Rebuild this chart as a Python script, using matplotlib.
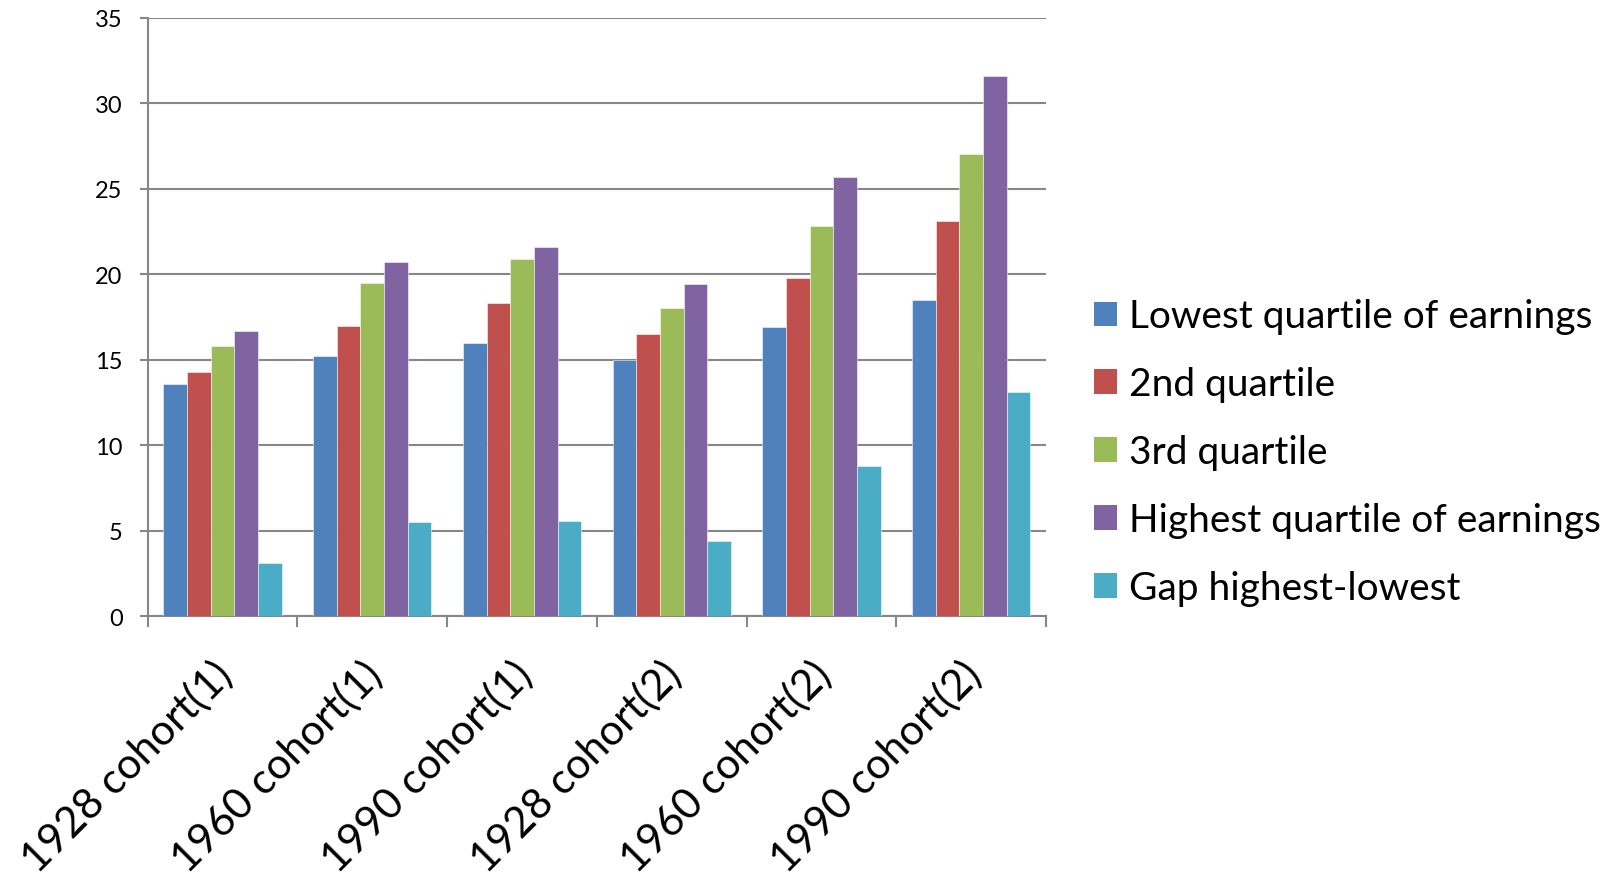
import matplotlib
matplotlib.use("Agg")
import matplotlib.pyplot as plt
from matplotlib.patches import Patch
from matplotlib.transforms import ScaledTranslation
import numpy as np

plt.rcParams['font.family'] = ['Lato', 'DejaVu Sans']

categories = ["1928 cohort(1)", "1960 cohort(1)", "1990 cohort(1)",
              "1928 cohort(2)", "1960 cohort(2)", "1990 cohort(2)"]
series_names = ["Lowest quartile of earnings", "2nd quartile", "3rd quartile",
                "Highest quartile of earnings", "Gap highest-lowest"]
lowest = [13.6, 15.2, 16.0, 15.0, 16.9, 18.5]
second = [14.3, 17.0, 18.3, 16.5, 19.8, 23.1]
third = [15.8, 19.5, 20.9, 18.0, 22.8, 27.0]
highest = [16.7, 20.7, 21.6, 19.4, 25.7, 31.6]
gap = [3.1, 5.5, 5.6, 4.4, 8.8, 13.1]
y_ticks = [0, 5, 10, 15, 20, 25, 30, 35]

colors = ["#4F81BD", "#C0504D", "#9BBB59", "#8064A2", "#4BACC6"]
series = [lowest, second, third, highest, gap]

fig = plt.figure(figsize=(16.19, 8.87), dpi=100)
ax = fig.add_axes([0.0912, 0.304, 0.555, 0.675])

x = np.arange(len(categories))
width = 0.158
for i, (vals, col, name) in enumerate(zip(series, colors, series_names)):
    offs = (i - 2) * width
    ax.bar(x + offs, vals, width=width, color=col, edgecolor=(1, 1, 1, 0.6),
           linewidth=0.6, label=name, zorder=3)

ax.set_xlim(-0.5, len(categories) - 0.5)
ax.set_ylim(0, 35)
ax.set_yticks(y_ticks)
ax.set_yticklabels([str(t) for t in y_ticks], fontsize=17)
ax.yaxis.grid(True, color="#878787", linewidth=1.5, zorder=0)
ax.set_axisbelow(True)

for s in ["top", "right"]:
    ax.spines[s].set_visible(False)
for s in ["left", "bottom"]:
    ax.spines[s].set_color("#878787")
    ax.spines[s].set_linewidth(1.5)

ax.tick_params(axis="y", length=6, width=1.5, color="#878787", pad=12)

# category boundaries carry the tick marks, labels sit at group centers
ax.set_xticks(np.arange(len(categories) + 1) - 0.5)
ax.set_xticklabels([])
ax.tick_params(axis="x", which="major", length=8, width=1.5, color="#878787")
ax.set_xticks(x, minor=True)
ax.set_xticklabels(categories, minor=True, rotation=45, ha="right", va="top",
                   fontsize=30.5, rotation_mode="default")
ax.tick_params(axis="x", which="minor", length=0, pad=27)
shift = ScaledTranslation(0.17, 0, fig.dpi_scale_trans)
for lbl in ax.get_xticklabels(minor=True):
    lbl.set_transform(lbl.get_transform() + shift)

handles = [Patch(facecolor=c, edgecolor="none") for c in colors]
fig.legend(handles, series_names, loc="center left",
           bbox_to_anchor=(0.676, 0.489), frameon=False, fontsize=28,
           handlelength=0.59, handleheight=0.59, handletextpad=0.3,
           labelspacing=0.82, borderpad=0, borderaxespad=0)

fig.savefig("out.png", dpi=100)
